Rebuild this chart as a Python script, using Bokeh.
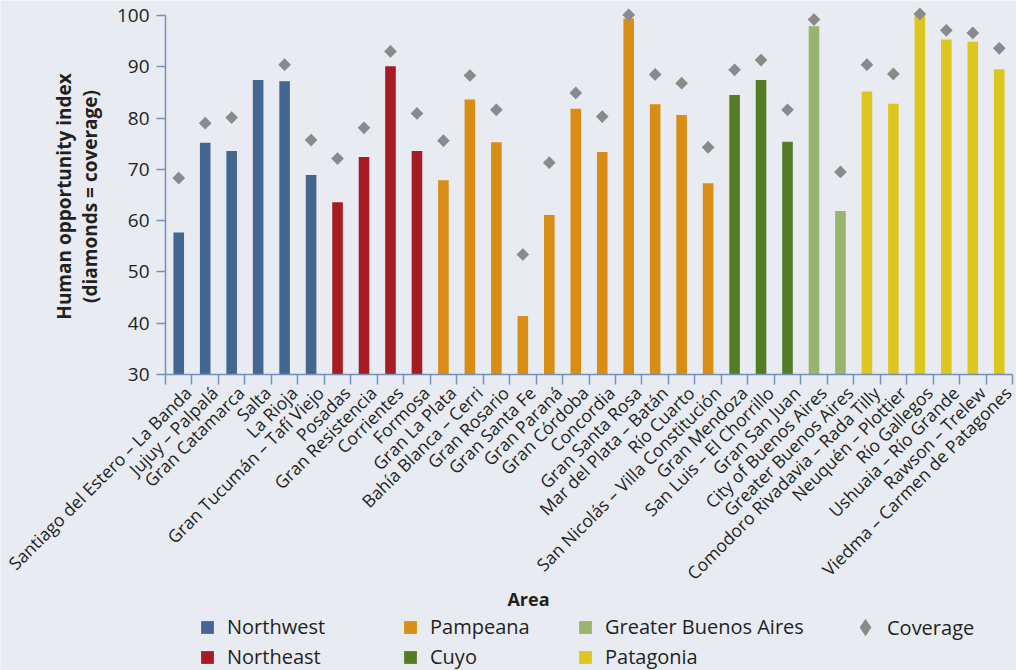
from math import pi
from bokeh.plotting import figure
from bokeh.models import (ColumnDataSource, Range1d, FixedTicker, Legend, LegendItem, Label)
from bokeh.embed import file_html
from bokeh.resources import INLINE

areas = ["Santiago del Estero – La Banda", "Jujuy – Palpalá", "Gran Catamarca", "Salta",
         "La Rioja", "Gran Tucumán – Tafí Viejo", "Posadas", "Gran Resistencia", "Corrientes",
         "Formosa", "Gran La Plata", "Bahía Blanca – Cerri", "Gran Rosario", "Gran Santa Fe",
         "Gran Paraná", "Gran Córdoba", "Concordia", "Gran Santa Rosa", "Mar del Plata – Batán",
         "Río Cuarto", "San Nicolás – Villa Constitución", "Gran Mendoza", "San Luis – El Chorrillo",
         "Gran San Juan", "City of Buenos Aires", "Greater Buenos Aires",
         "Comodoro Rivadavia – Rada Tilly", "Neuquén – Plottier", "Río Gallegos",
         "Ushuaia – Río Grande", "Rawson – Trelew", "Viedma – Carmen de Patagones"]
regions = ["Northwest"] * 6 + ["Northeast"] * 4 + ["Pampeana"] * 11 + ["Cuyo"] * 3 + \
          ["Greater Buenos Aires"] * 2 + ["Patagonia"] * 6
hoi = [57.7, 75.2, 73.6, 87.4, 87.2, 68.9, 63.6, 72.4, 90.1, 73.6,
       67.9, 83.6, 75.3, 41.4, 61.1, 81.8, 73.4, 99.4, 82.7, 80.6, 67.3,
       84.5, 87.4, 75.4, 97.9, 61.9, 85.2, 82.8, 100.0, 95.3, 94.9, 89.5]
coverage = [68.3, 79.0, 80.1, None, 90.4, 75.7, 72.1, 78.1, 93.0, 80.9,
            75.6, 88.3, 81.6, 53.4, 71.3, 84.9, 80.3, 100.1, 88.5, 86.8, 74.3,
            89.4, 91.3, 81.6, 99.2, 69.5, 90.4, 88.6, 100.3, 97.1, 96.6, 93.6]
region_names = ["Northwest", "Northeast", "Pampeana", "Cuyo", "Greater Buenos Aires", "Patagonia"]
region_colors = ["#44678F", "#A61C22", "#D88E15", "#537C25", "#98B46F", "#DEC620"]
y_ticks = [30, 40, 50, 60, 70, 80, 90, 100]
y_title = ["Human opportunity index", "(diamonds = coverage)"]

BG = "#E8EBF2"
AXIS = "#7390BA"
TXT = "#231F20"
GREY = "#8A8A8A"
FONT = "Open Sans"
LABEL_SHIFT = 0.35  # rotated labels sit slightly right of bar centres

# page geometry (pixels): plot area spans x 165..1012, y 15 (=100) .. 374 (=30)
W, H = 1016, 670
X0, X1, YTOP, YBOT = 165.0, 1012.0, 15.0, 374.0
n = len(areas)
sx = (X1 - X0) / n
sy = (YBOT - YTOP) / (y_ticks[-1] - y_ticks[0])
x_range = Range1d(-X0 / sx, n + (W - X1) / sx)
y_range = Range1d(y_ticks[0] - (H - YBOT) / sy, y_ticks[-1] + YTOP / sy)

p = figure(width=W, height=H, output_backend="svg", toolbar_location=None,
           x_range=x_range, y_range=y_range, min_border=0)
p.background_fill_color = BG
p.border_fill_color = BG
p.outline_line_color = None
p.xgrid.visible = False
p.ygrid.visible = False

renderers = {}
for name, col in zip(region_names, region_colors):
    idx = [i for i, r in enumerate(regions) if r == name]
    src = ColumnDataSource(dict(x=[i + 0.5 for i in idx], top=[hoi[i] for i in idx]))
    renderers[name] = p.vbar(x="x", top="top", bottom=y_ticks[0], width=0.4, source=src,
                             fill_color=col, line_color=None)

cidx = [i for i, c in enumerate(coverage) if c is not None]
csrc = ColumnDataSource(dict(x=[i + 0.5 for i in cidx], y=[coverage[i] for i in cidx]))
# diamond marker (used for the legend key) lies fully inside the rotated square drawn on top
renderers["Coverage"] = p.scatter(x="x", y="y", source=csrc, marker="diamond", size=12,
                                  fill_color=GREY, line_color=None)
p.scatter(x="x", y="y", source=csrc, marker="square", angle=pi / 4, size=9,
          fill_color=GREY, line_color=None)

# x axis: labels at centres, ticks at boundaries
xa = p.xaxis[0]
xa.fixed_location = y_ticks[0]
xa.bounds = (0, n)
xa.ticker = FixedTicker(ticks=[i + 0.5 + LABEL_SHIFT for i in range(n)],
                        minor_ticks=list(range(n + 1)))
xa.major_label_overrides = {i + 0.5 + LABEL_SHIFT: a for i, a in enumerate(areas)}
xa.major_label_orientation = pi / 4
xa.major_tick_line_color = None
xa.major_tick_out = 0
xa.major_tick_in = 0
xa.minor_tick_out = 10
xa.minor_tick_in = 0
xa.minor_tick_line_color = AXIS
xa.minor_tick_line_width = 1.5
xa.axis_line_color = AXIS
xa.axis_line_width = 1.5
xa.major_label_standoff = 5
xa.major_label_text_font = FONT
xa.major_label_text_font_size = "17.5px"
xa.major_label_text_color = TXT

ya = p.yaxis[0]
ya.fixed_location = 0
ya.bounds = (y_ticks[0], y_ticks[-1])
ya.ticker = FixedTicker(ticks=y_ticks)
ya.minor_tick_line_color = None
ya.major_tick_out = 9
ya.major_tick_in = 0
ya.major_tick_line_color = AXIS
ya.major_tick_line_width = 1.5
ya.axis_line_color = AXIS
ya.axis_line_width = 1.5
ya.major_label_standoff = 7
ya.major_label_text_font = FONT
ya.major_label_text_font_size = "19px"
ya.major_label_text_color = TXT

# y-axis title (two lines), x-axis title, legends -- positioned in screen pixels
for txt, cx in zip(y_title, [63, 89]):
    p.add_layout(Label(x=cx, y=H - 196, x_units="screen", y_units="screen", text=txt,
                       angle=pi / 2, text_font=FONT, text_font_size="19px",
                       text_font_style="bold", text_color=TXT,
                       text_align="center", text_baseline="middle"))

p.add_layout(Label(x=528, y=H - 598, x_units="screen", y_units="screen", text="Area",
                   text_font=FONT, text_font_size="18px", text_font_style="bold",
                   text_color=TXT, text_align="center", text_baseline="middle"))

def make_legend(names, vx, vy, gsize=16, standoff=12):
    items = [LegendItem(label=nm, renderers=[renderers[nm]]) for nm in names]
    return Legend(items=items, location=(vx, vy), orientation="vertical",
                  glyph_width=gsize, glyph_height=gsize, label_height=gsize, spacing=3,
                  label_standoff=standoff, padding=0, margin=0,
                  border_line_color=None, background_fill_alpha=0,
                  label_text_font=FONT, label_text_font_size="20px",
                  label_text_color=TXT)

p.add_layout(make_legend(["Northwest", "Northeast"], 199, 0))
p.add_layout(make_legend(["Pampeana", "Cuyo"], 402, 0))
p.add_layout(make_legend(["Greater Buenos Aires", "Patagonia"], 577, 0))
# marker key is drawn at 0.4 x glyph box, so use a larger box for the diamond
p.add_layout(make_legend(["Coverage"], 843, 21, gsize=44, standoff=0))

html = file_html(p, INLINE, title="Human opportunity index")
html = html.replace("<body>", '<body style="margin:0;background:%s;">' % BG, 1)
open("out.html", "w").write(html)
